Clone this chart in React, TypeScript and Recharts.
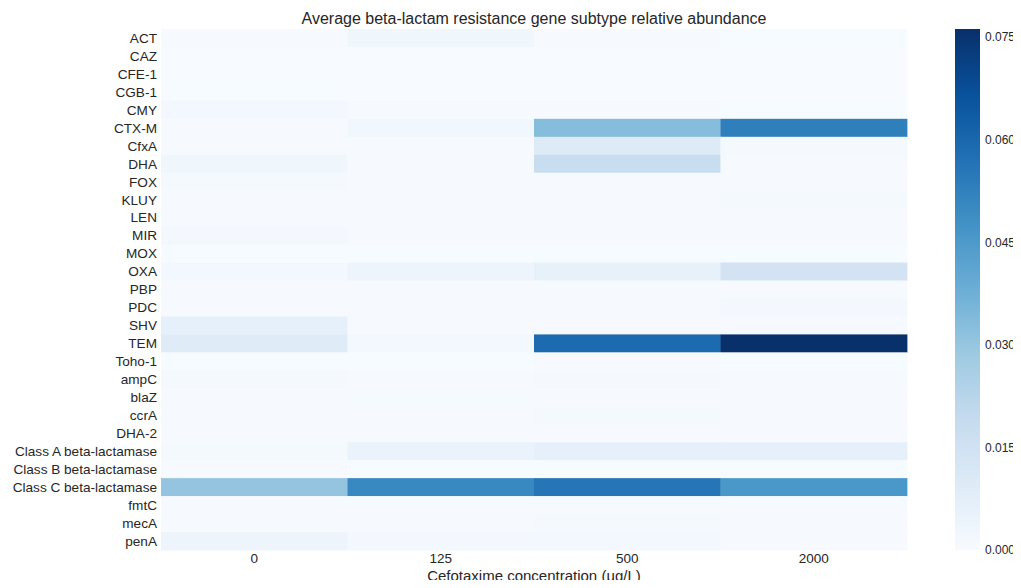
import React from 'react';
import { ScatterChart, Scatter, XAxis, YAxis, Label } from 'recharts';

// Gene subtypes (rows, top to bottom)
const genes = [
  'ACT', 'CAZ', 'CFE-1', 'CGB-1', 'CMY', 'CTX-M', 'CfxA', 'DHA', 'FOX', 'KLUY',
  'LEN', 'MIR', 'MOX', 'OXA', 'PBP', 'PDC', 'SHV', 'TEM', 'Toho-1', 'ampC',
  'blaZ', 'ccrA', 'DHA-2', 'Class A beta-lactamase', 'Class B beta-lactamase',
  'Class C beta-lactamase', 'fmtC', 'mecA', 'penA',
];

// Cefotaxime concentrations (columns)
const concentrations = ['0', '125', '500', '2000'];

// Average relative abundance per gene, one array per concentration
const abund0 = [
  0.0005, 0, 0, 0.0002, 0.0015, 0.0005, 0.0005, 0.003, 0.001, 0.0003,
  0.0003, 0.0015, 0.0002, 0.002, 0.0005, 0.0005, 0.0065, 0.009, 0.0002, 0.001,
  0.0003, 0.0005, 0.0003, 0.0012, 0.0003, 0.0305, 0.0003, 0.0003, 0.004,
];
const abund125 = [
  0.003, 0, 0, 0, 0.0005, 0.0025, 0.0003, 0.0003, 0.0003, 0.0003,
  0.0003, 0.0003, 0.0002, 0.004, 0.0005, 0.0005, 0.0005, 0.0015, 0.0002, 0.0003,
  0.0008, 0.0003, 0.0003, 0.005, 0.0002, 0.0505, 0.0003, 0.0003, 0.002,
];
const abund500 = [
  0.0005, 0, 0, 0, 0.0003, 0.033, 0.0095, 0.018, 0.0003, 0.0005,
  0.0003, 0.0003, 0.0002, 0.006, 0.0005, 0.0005, 0.0003, 0.059, 0.0003, 0.001,
  0.0003, 0.001, 0.0005, 0.0065, 0.0002, 0.056, 0.0003, 0.0012, 0.0015,
];
const abund2000 = [
  0.0002, 0, 0, 0, 0.0002, 0.053, 0.001, 0.0003, 0.0003, 0.001,
  0.0005, 0.0003, 0.0002, 0.014, 0.0003, 0.0018, 0.0003, 0.0762, 0.0002, 0.0003,
  0.0003, 0.0003, 0.0003, 0.0065, 0.0002, 0.0457, 0.0003, 0.0003, 0.0003,
];

const colorbarTicks = [0, 0.015, 0.03, 0.045, 0.06, 0.075];

const series = [abund0, abund125, abund500, abund2000];

// matplotlib "Blues" anchors
const BLUES = ['#f7fbff', '#deebf7', '#c6dbef', '#9ecae1', '#6baed6', '#4292c6', '#2171b5', '#08519c', '#08306b'];

const hexToRgb = (h: string) => [1, 3, 5].map((i) => parseInt(h.slice(i, i + 2), 16));

function blues(t: number): string {
  const c = Math.max(0, Math.min(1, t)) * (BLUES.length - 1);
  const i = Math.min(Math.floor(c), BLUES.length - 2);
  const f = c - i;
  const a = hexToRgb(BLUES[i]);
  const b = hexToRgb(BLUES[i + 1]);
  const rgb = a.map((v, k) => Math.round(v + (b[k] - v) * f));
  return `rgb(${rgb[0]},${rgb[1]},${rgb[2]})`;
}

const cells = genes.flatMap((gene, row) =>
  series.map((vals, col) => ({ gene, row, col, conc: concentrations[col], value: vals[row] }))
);
const vmax = Math.max(...cells.map((c) => c.value));

// chart geometry (the box keeps inside the page; drawing runs into the body margin)
const BOX_W = 1005;
const BOX_H = 572;
const W = 1005;
const H = 580;
const OVERLAY_W = 1013;
const PLOT_LEFT = 153;
const PLOT_TOP = 21;
const PLOT_RIGHT = 899;
const PLOT_BOTTOM = 542;
const CELL_W = (PLOT_RIGHT - PLOT_LEFT) / concentrations.length;
const CELL_H = (PLOT_BOTTOM - PLOT_TOP) / genes.length;

const CB_X = 947;
const CB_W = 25;

const FONT = 'Liberation Sans, Arial, sans-serif';
const TEXT = '#262626';

const HeatCell = (props: any) => {
  const { cx, cy, payload } = props;
  return (
    <rect
      x={cx - CELL_W / 2}
      y={cy - CELL_H / 2}
      width={CELL_W + 0.4}
      height={CELL_H + 0.4}
      fill={blues(payload.value / vmax)}
    />
  );
};

export default function App() {
  const cbH = PLOT_BOTTOM - PLOT_TOP;
  return (
    <div style={{ position: 'relative', width: BOX_W, height: BOX_H, fontFamily: FONT }}>
      <ScatterChart
        width={W}
        height={H}
        margin={{ top: PLOT_TOP, right: W - PLOT_RIGHT, bottom: 0, left: 0 }}
      >
        <XAxis
          type="number"
          dataKey="col"
          domain={[-0.5, concentrations.length - 0.5]}
          ticks={concentrations.map((_, i) => i)}
          interval={0}
          tickFormatter={(i: number) => concentrations[i]}
          axisLine={false}
          tickLine={false}
          tickSize={0}
          tickMargin={3}
          height={H - PLOT_BOTTOM}
          tick={{ fill: TEXT, fontSize: 13.5, fontFamily: FONT }}
        >
          <Label
            value="Cefotaxime concentration (µg/L)"
            position="insideBottom"
            offset={7}
            fill={TEXT}
            fontSize={15}
            fontFamily={FONT}
          />
        </XAxis>
        <YAxis
          type="number"
          dataKey="row"
          reversed
          domain={[-0.5, genes.length - 0.5]}
          ticks={genes.map((_, i) => i)}
          interval={0}
          tickFormatter={(i: number) => genes[i]}
          axisLine={false}
          tickLine={false}
          tickSize={0}
          tickMargin={4}
          width={PLOT_LEFT}
          tick={{ fill: TEXT, fontSize: 13.6, fontFamily: FONT }}
        />
        <Scatter data={cells} shape={HeatCell} isAnimationActive={false} />
      </ScatterChart>
      <svg
        width={OVERLAY_W}
        height={H}
        style={{ position: 'absolute', left: 0, top: 0, pointerEvents: 'none' }}
      >
        <defs>
          <linearGradient id="bluesBar" x1="0" y1="1" x2="0" y2="0">
            {BLUES.map((c, i) => (
              <stop key={c} offset={i / (BLUES.length - 1)} stopColor={c} />
            ))}
          </linearGradient>
        </defs>
        <text
          x={(PLOT_LEFT + PLOT_RIGHT) / 2}
          y={16}
          textAnchor="middle"
          fontSize={16}
          fill={TEXT}
          fontFamily={FONT}
        >
          Average beta-lactam resistance gene subtype relative abundance
        </text>
        <rect x={CB_X} y={PLOT_TOP} width={CB_W} height={cbH} fill="url(#bluesBar)" />
        {colorbarTicks.map((t) => (
          <text
            key={t}
            x={CB_X + CB_W + 5}
            y={PLOT_BOTTOM - (t / vmax) * cbH}
            dy="0.35em"
            fontSize={12}
            fill={TEXT}
            fontFamily={FONT}
          >
            {t.toFixed(3)}
          </text>
        ))}
      </svg>
    </div>
  );
}
